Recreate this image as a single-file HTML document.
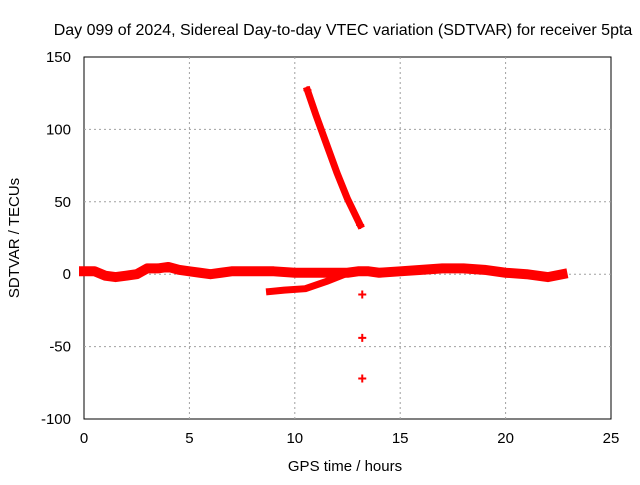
<!DOCTYPE html>
<html><head><meta charset="utf-8"><style>
body{margin:0;background:#fff;font-family:"Liberation Sans",sans-serif}
svg text{font-family:"Liberation Sans",sans-serif;font-size:15px;fill:#000}
</style></head><body>
<svg id="c" width="640" height="480"></svg>
<script>
const xTicks=[0,5,10,15,20,25];
const yTicks=[150,100,50,0,-50,-100];
const bandHours=[0,0.5,1,1.5,2,2.5,3,3.5,4,4.5,5,5.5,6,6.5,7,7.5,8,9,10,11,12,12.5,13,13.5,14,15,16,17,18,19,20,21,22,22.7];
const bandValues=[2,2,-1,-2,-1,0,4,4,5,3,2,1,0,1,2,2,2,2,1,1,1,1,2,2,1,2,3,4,4,3,1,0,-2,0];
const dropHours=[10.6,11,11.5,12,12.5,13.1];
const dropValues=[127,110,90,70,52,34];
const lowHours=[8.8,9.5,10.5,11.5,12.2];
const lowValues=[-12,-11,-10,-5,-1];
const outHours=[13.2,13.2,13.2];
const outValues=[-14,-44,-72];
const NS="http://www.w3.org/2000/svg",svg=document.getElementById('c');
const X=h=>84+h*(527/25), Y=v=>274.2-v*1.448;
function mk(t,a,p){const e=document.createElementNS(NS,t);for(const k in a)e.setAttribute(k,a[k]);(p||svg).appendChild(e);return e;}
mk('rect',{x:84,y:57,width:527,height:362,fill:'none',stroke:'#000'});
xTicks.forEach(t=>{const x=X(t);
 if(t>0&&t<25){const g=mk('line',{x1:x,x2:x,y1:57,y2:419,stroke:'#a0a0a0','stroke-dasharray':'2,3'});
 }
 const tx=mk('text',{x:x,y:443,'text-anchor':'middle'});tx.textContent=t;
 });
yTicks.forEach(t=>{const y=Y(t);
 if(t<150&&t>-100){const g=mk('line',{x1:84,x2:611,y1:y,y2:y,stroke:'#a0a0a0','stroke-dasharray':'2,3'});
 }
 const tx=mk('text',{x:71,y:y+5,'text-anchor':'end'});tx.textContent=t;
 });
function series(hs,vs,w,name){
 const pts=hs.map((h,i)=>X(h)+','+Y(vs[i])).join(' ');
 const p=mk('polyline',{points:pts,fill:'none',stroke:'#f00','stroke-width':w,'stroke-linejoin':'round','stroke-linecap':'square'});
 }
function plus(h,v){const x=X(h),y=Y(v);
 const p=mk('path',{d:`M${x-4},${y}H${x+4}M${x},${y-4}V${y+4}`,stroke:'#f00','stroke-width':2});
 }
series(bandHours,bandValues,10,'sdtvar-main-band');
series(dropHours,dropValues,7,'sdtvar-drop-segment');
series(lowHours,lowValues,7,'sdtvar-low-segment');
outHours.forEach((h,i)=>plus(h,outValues[i]));
plus(dropHours[0],dropValues[0]);plus(dropHours[5],dropValues[5]);
</script>
<svg width="640" height="480" style="position:absolute;left:0;top:0">
<text x="343" y="35" text-anchor="middle" style="font-size:16px">Day 099 of 2024, Sidereal Day-to-day VTEC variation (SDTVAR) for receiver 5pta</text>
<text x="345" y="471" text-anchor="middle">GPS time / hours</text>
<text transform="translate(19,238) rotate(-90)" text-anchor="middle">SDTVAR / TECUs</text>
</svg>
</body></html>
